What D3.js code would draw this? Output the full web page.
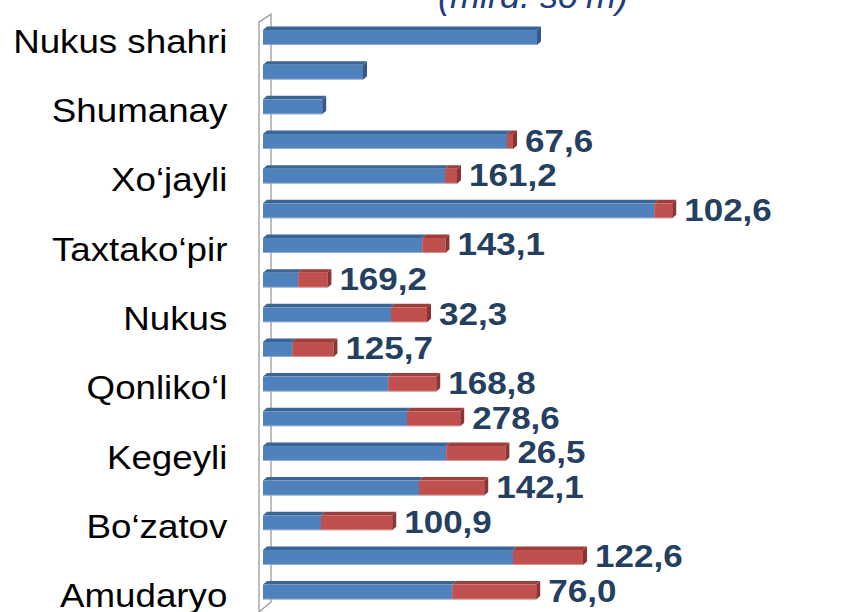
<!DOCTYPE html>
<html>
<head>
<meta charset="utf-8">
<script src="https://cdn.jsdelivr.net/npm/d3@7"></script>
<style>
  html, body { margin: 0; padding: 0; background: #fff; }
  svg { display: block; }
</style>
</head>
<body>
<div id="chart"></div>
<script>
// categories, top to bottom (only every other one is labelled on the axis)
var categories = ["Nukus shahri", "Ellikqal\u2018a", "Shumanay", "Taxiatosh", "Xo\u2018jayli",
  "To\u2018rtko\u2018l", "Taxtako\u2018pir", "Mo\u2018ynoq", "Nukus", "Qo\u2018ng\u2018irot",
  "Qonliko\u2018l", "Qorao\u2018zak", "Kegeyli", "Chimboy", "Bo\u2018zatov", "Beruniy", "Amudaryo"];

// blue series (first segment) and red series (second segment)
var blueValues = [68.5, 25.0, 14.8, 61.0, 45.5, 97.8, 39.8, 8.8, 32.0, 7.3, 31.3, 36.0, 45.8, 39.0, 14.5, 62.5, 47.3];
var redValues  = [0, 0, 0, 1.5, 3.0, 4.5, 5.8, 7.3, 9.0, 10.3, 12.0, 13.3, 14.8, 16.3, 17.8, 17.5, 21.0];

// data labels shown next to the bars that have a red segment
var labelValues = [67.6, 161.2, 102.6, 143.1, 169.2, 32.3, 125.7, 168.8, 278.6, 26.5, 142.1, 100.9, 122.6, 76.0];

var unitTitle = "(mlrd. so\u2018m)";

var width = 842, height = 612;
var depthX = 4, depthY = 3.5, faceH = 15;

var blueFront = "#4F81BD", blueTop = "#3C6597", blueSide = "#36598A";
var redFront = "#C0504D", redTop = "#9E3E3B", redSide = "#8A3533";

var svg = d3.select("#chart").append("svg")
  .attr("width", width)
  .attr("height", height);

var x = d3.scaleLinear().domain([0, 100]).range([263, 663]);
var y = d3.scaleBand().domain(categories).range([20.2, 609.4]).padding(0);

var fmt = function(v) { return d3.format(".1f")(v).replace(".", ","); };

// the 3d wall on the left
var wallTop = y.range()[0] - 6, wallBottom = height;
svg.append("path")
  .attr("d", "M259," + wallBottom + " V" + (wallTop + 8) + " L271," + wallTop + " V" + (wallBottom - 10) + " L259," + wallBottom)
  .attr("fill", "#fff")
  .attr("stroke", "#9a9a9a")
  .attr("stroke-width", 1.3);

// title fragment cropped at the top
svg.append("text")
  .attr("x", 438)
  .attr("y", 8)
  .attr("font-family", "Liberation Sans, Arial, sans-serif")
  .attr("font-style", "italic")
  .attr("font-size", 36)
  .attr("fill", "#203F80")
  .text(unitTitle);

var rows = categories.map(function(c, i) {
  return {cat: c, blue: blueValues[i], red: redValues[i]};
});

// draws one segment of a bar: front face + top face
var drawSegment = function(g, x0, x1, yc, front, top) {
  var y0 = yc - faceH / 2, y1 = yc + faceH / 2;
  g.append("path")
    .attr("d", "M" + x0 + "," + y0 + " L" + (x0 + depthX) + "," + (y0 - depthY) +
      " L" + (x1 + depthX) + "," + (y0 - depthY) + " L" + x1 + "," + y0 + "Z")
    .attr("fill", top);
  g.append("rect")
    .attr("x", x0).attr("y", y0)
    .attr("width", Math.max(0, x1 - x0)).attr("height", faceH)
    .attr("fill", front);
  g.append("line")
    .attr("x1", x0).attr("x2", x1)
    .attr("y1", y1 - 0.5).attr("y2", y1 - 0.5)
    .attr("stroke", "#fff").attr("stroke-opacity", 0.35).attr("stroke-width", 1);
};

var bars = svg.append("g").attr("class", "bars");
rows.forEach(function(d) {
  var g = bars.append("g");
  var yc = y(d.cat) + y.bandwidth() / 2;
  var xb = x(d.blue), xr = x(d.blue + d.red);
  drawSegment(g, x(0), xb, yc, blueFront, blueTop);
  if (d.red > 0) drawSegment(g, xb, xr, yc, redFront, redTop);
  var xe = d.red > 0 ? xr : xb;
  var y0 = yc - faceH / 2, y1 = yc + faceH / 2;
  g.append("path")
    .attr("d", "M" + xe + "," + y0 + " L" + (xe + depthX) + "," + (y0 - depthY) +
      " L" + (xe + depthX) + "," + (y1 - depthY) + " L" + xe + "," + y1 + "Z")
    .attr("fill", d.red > 0 ? redSide : blueSide);
});

// category axis, every other label
var axis = d3.axisLeft(y)
  .tickValues(categories.filter(function(c, i) { return i % 2 === 0; }))
  .tickSize(0)
  .tickPadding(33);

var ax = svg.append("g")
  .attr("transform", "translate(263,0)")
  .call(axis);
ax.select(".domain").remove();
ax.selectAll("text")
  .attr("font-family", "Liberation Sans, Arial, sans-serif")
  .attr("font-size", 34)
  .attr("fill", "#000")
  .attr("dy", "0.45em")
  .attr("transform", "scale(1.08,1)");

// data labels for the bars with a red segment
var labelled = rows.filter(function(d) { return d.red > 0; });
svg.append("g").selectAll("text")
  .data(labelled)
  .enter()
  .append("text")
  .attr("transform", function(d) {
    var lx = x(d.blue + d.red) + depthX + 8;
    var ly = y(d.cat) + y.bandwidth() / 2 + 10;
    return "translate(" + lx + "," + ly + ") scale(1.13,1)";
  })
  .attr("font-family", "Liberation Sans, Arial, sans-serif")
  .attr("font-weight", "bold")
  .attr("font-size", 31)
  .attr("fill", "#243F60")
  .text(function(d, i) { return fmt(labelValues[i]); });
</script>
</body>
</html>
